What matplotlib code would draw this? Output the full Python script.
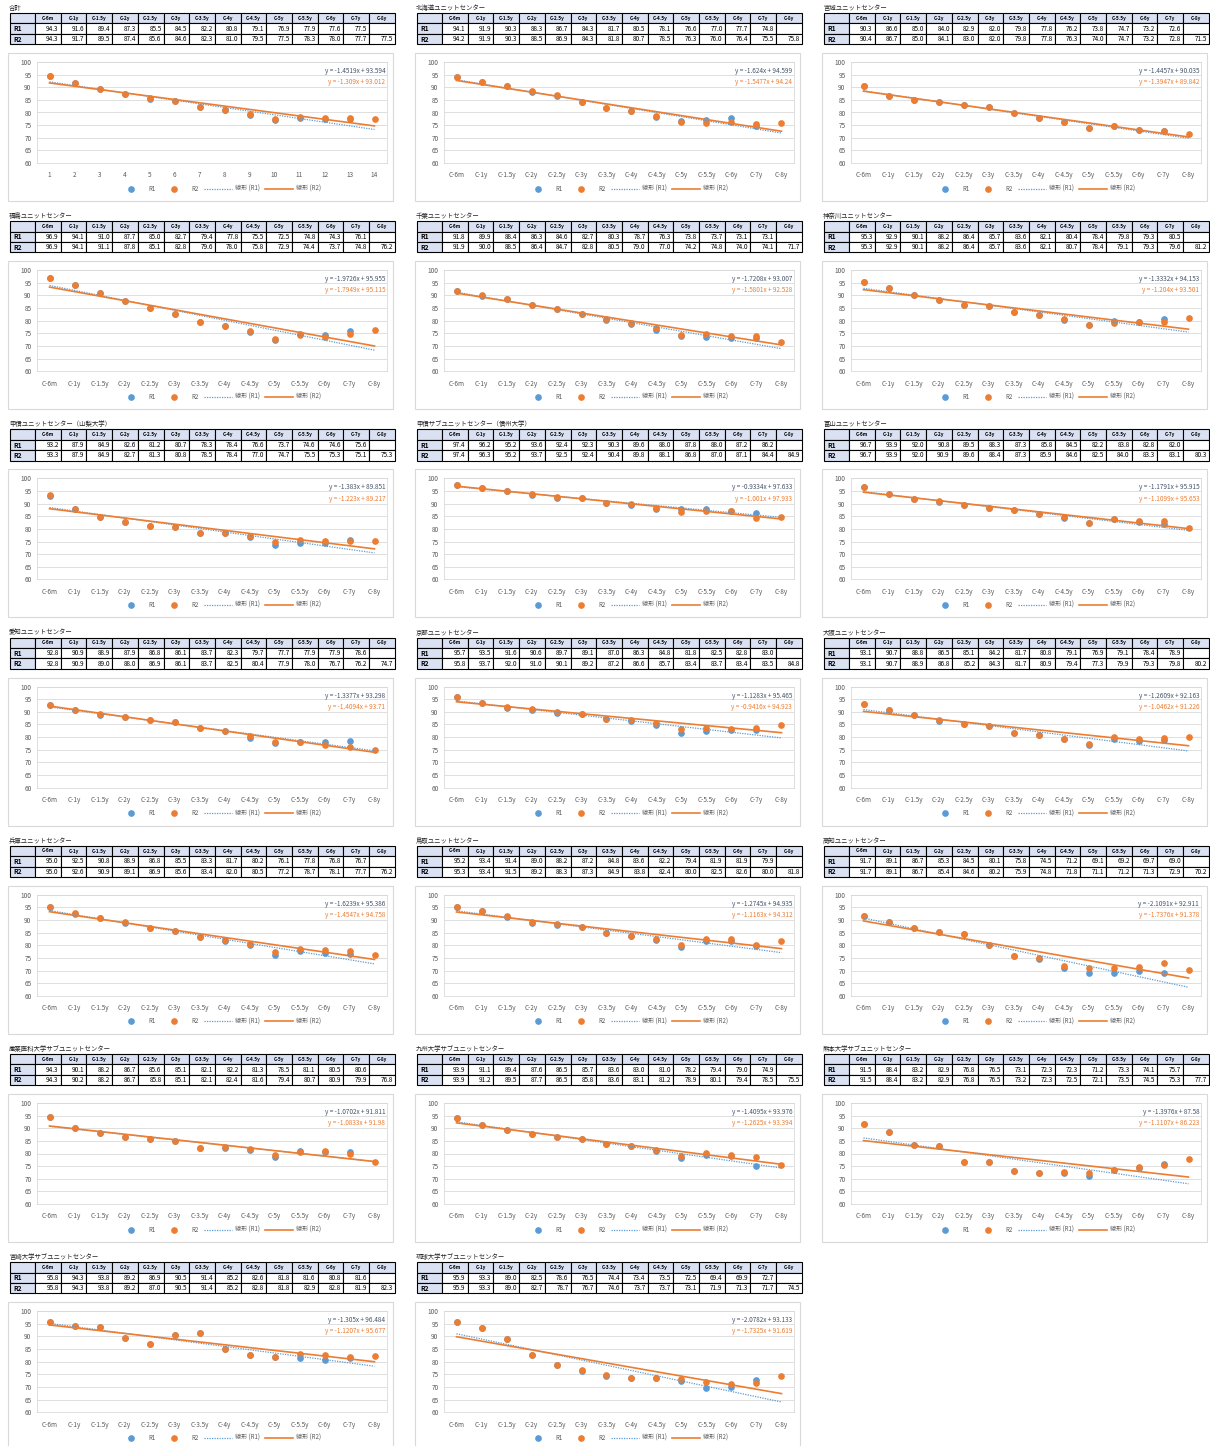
import numpy as np
import matplotlib
matplotlib.use('Agg')
import matplotlib.pyplot as plt
from matplotlib.patches import Rectangle

plt.rcParams['font.family'] = ['Noto Sans CJK JP', 'DejaVu Sans']

W, H = 1210, 1446

# ---- data ----
periods = ['C-6m', 'C-1y', 'C-1.5y', 'C-2y', 'C-2.5y', 'C-3y', 'C-3.5y',
           'C-4y', 'C-4.5y', 'C-5y', 'C-5.5y', 'C-6y', 'C-7y', 'C-8y']
first_xlabels = [str(k) for k in range(1, 15)]

titles = ['合計', '北海道ユニットセンター', '宮城ユニットセンター',
          '福島ユニットセンター', '千葉ユニットセンター', '神奈川ユニットセンター',
          '甲信ユニットセンター（山梨大学）', '甲信サブユニットセンター（信州大学）', '富山ユニットセンター',
          '愛知ユニットセンター', '京都ユニットセンター', '大阪ユニットセンター',
          '兵庫ユニットセンター', '鳥取ユニットセンター', '高知ユニットセンター',
          '産業医科大学サブユニットセンター', '九州大学サブユニットセンター', '熊本大学サブユニットセンター',
          '宮崎大学サブユニットセンター', '琉球大学サブユニットセンター']

# R1 has no value for C-8y
r1 = [
    [94.3, 91.6, 89.4, 87.3, 85.5, 84.5, 82.2, 80.8, 79.1, 76.9, 77.9, 77.6, 77.5],
    [94.1, 91.9, 90.3, 88.3, 86.7, 84.3, 81.7, 80.5, 78.1, 76.6, 77.0, 77.7, 74.8],
    [90.3, 86.6, 85.0, 84.0, 82.9, 82.0, 79.8, 77.8, 76.2, 73.8, 74.7, 73.2, 72.6],
    [96.9, 94.1, 91.0, 87.7, 85.0, 82.7, 79.4, 77.8, 75.5, 72.5, 74.8, 74.3, 76.1],
    [91.8, 89.9, 88.4, 86.3, 84.6, 82.7, 80.3, 78.7, 76.3, 73.8, 73.7, 73.1, 73.1],
    [95.3, 92.9, 90.1, 88.2, 86.4, 85.7, 83.6, 82.1, 80.4, 78.4, 79.8, 79.3, 80.5],
    [93.2, 87.9, 84.9, 82.6, 81.2, 80.7, 78.3, 78.4, 76.6, 73.7, 74.6, 74.6, 75.6],
    [97.4, 96.2, 95.2, 93.6, 92.4, 92.3, 90.3, 89.6, 88.0, 87.8, 88.0, 87.2, 86.2],
    [96.7, 93.9, 92.0, 90.8, 89.5, 88.3, 87.3, 85.8, 84.5, 82.2, 83.8, 82.8, 82.0],
    [92.8, 90.9, 88.9, 87.9, 86.8, 86.1, 83.7, 82.3, 79.7, 77.7, 77.9, 77.9, 78.6],
    [95.7, 93.5, 91.6, 90.6, 89.7, 89.1, 87.0, 86.3, 84.8, 81.8, 82.5, 82.8, 83.0],
    [93.1, 90.7, 88.8, 86.5, 85.1, 84.2, 81.7, 80.8, 79.1, 76.9, 79.1, 78.4, 78.9],
    [95.0, 92.5, 90.8, 88.9, 86.8, 85.5, 83.3, 81.7, 80.2, 76.1, 77.8, 76.8, 76.7],
    [95.2, 93.4, 91.4, 89.0, 88.2, 87.2, 84.8, 83.6, 82.2, 79.4, 81.9, 81.9, 79.9],
    [91.7, 89.1, 86.7, 85.3, 84.5, 80.1, 75.8, 74.5, 71.2, 69.1, 69.2, 69.7, 69.0],
    [94.3, 90.1, 88.2, 86.7, 85.6, 85.1, 82.1, 82.2, 81.3, 78.5, 81.1, 80.5, 80.6],
    [93.9, 91.1, 89.4, 87.6, 86.5, 85.7, 83.6, 83.0, 81.0, 78.2, 79.4, 79.0, 74.9],
    [91.5, 88.4, 83.2, 82.9, 76.8, 76.5, 73.1, 72.3, 72.3, 71.2, 73.3, 74.1, 75.7],
    [95.8, 94.3, 93.8, 89.2, 86.9, 90.5, 91.4, 85.2, 82.6, 81.8, 81.6, 80.8, 81.6],
    [95.9, 93.3, 89.0, 82.5, 78.6, 76.5, 74.4, 73.4, 73.5, 72.5, 69.4, 69.9, 72.7],
]
r2 = [
    [94.3, 91.7, 89.5, 87.4, 85.6, 84.6, 82.3, 81.0, 79.5, 77.5, 78.3, 78.0, 77.7, 77.5],
    [94.2, 91.9, 90.3, 88.5, 86.9, 84.3, 81.8, 80.7, 78.5, 76.3, 76.0, 76.4, 75.5, 75.8],
    [90.4, 86.7, 85.0, 84.1, 83.0, 82.0, 79.8, 77.8, 76.3, 74.0, 74.7, 73.2, 72.8, 71.5],
    [96.9, 94.1, 91.1, 87.8, 85.1, 82.8, 79.6, 78.0, 75.8, 72.9, 74.4, 73.7, 74.8, 76.2],
    [91.9, 90.0, 88.5, 86.4, 84.7, 82.8, 80.5, 79.0, 77.0, 74.2, 74.8, 74.0, 74.1, 71.7],
    [95.3, 92.9, 90.1, 88.2, 86.4, 85.7, 83.6, 82.1, 80.7, 78.4, 79.1, 79.3, 79.6, 81.2],
    [93.3, 87.9, 84.9, 82.7, 81.3, 80.8, 78.5, 78.4, 77.0, 74.7, 75.5, 75.3, 75.1, 75.3],
    [97.4, 96.3, 95.2, 93.7, 92.5, 92.4, 90.4, 89.8, 88.1, 86.8, 87.0, 87.1, 84.4, 84.9],
    [96.7, 93.9, 92.0, 90.9, 89.6, 88.4, 87.3, 85.9, 84.6, 82.5, 84.0, 83.3, 83.1, 80.3],
    [92.8, 90.9, 89.0, 88.0, 86.9, 86.1, 83.7, 82.5, 80.4, 77.9, 78.0, 76.7, 76.2, 74.7],
    [95.8, 93.7, 92.0, 91.0, 90.1, 89.2, 87.2, 86.6, 85.7, 83.4, 83.7, 83.4, 83.5, 84.8],
    [93.1, 90.7, 88.9, 86.8, 85.2, 84.3, 81.7, 80.9, 79.4, 77.3, 79.9, 79.3, 79.8, 80.2],
    [95.0, 92.6, 90.9, 89.1, 86.9, 85.6, 83.4, 82.0, 80.5, 77.2, 78.7, 78.1, 77.7, 76.2],
    [95.3, 93.4, 91.5, 89.2, 88.3, 87.3, 84.9, 83.8, 82.4, 80.0, 82.5, 82.6, 80.0, 81.8],
    [91.7, 89.1, 86.7, 85.4, 84.6, 80.2, 75.9, 74.8, 71.8, 71.1, 71.2, 71.3, 72.9, 70.2],
    [94.3, 90.2, 88.2, 86.7, 85.8, 85.1, 82.1, 82.4, 81.6, 79.4, 80.7, 80.9, 79.9, 76.8],
    [93.9, 91.2, 89.5, 87.7, 86.5, 85.8, 83.6, 83.1, 81.2, 78.9, 80.1, 79.4, 78.5, 75.5],
    [91.5, 88.4, 83.2, 82.9, 76.8, 76.5, 73.2, 72.3, 72.5, 72.1, 73.5, 74.5, 75.3, 77.7],
    [95.8, 94.3, 93.8, 89.2, 87.0, 90.5, 91.4, 85.2, 82.8, 81.8, 82.9, 82.8, 81.9, 82.3],
    [95.9, 93.3, 89.0, 82.7, 78.7, 76.7, 74.6, 73.7, 73.7, 73.1, 71.9, 71.3, 71.7, 74.5],
]

# trendline coefficients as printed on each chart
r1_slope = [-1.4519, -1.624, -1.4457, -1.9726, -1.7208, -1.3332, -1.383, -0.9334, -1.1791, -1.3377,
            -1.1283, -1.2609, -1.6239, -1.2745, -2.1091, -1.0702, -1.4095, -1.3976, -1.305, -2.0782]
r1_icpt = [93.594, 94.599, 90.035, 95.955, 93.007, 94.153, 89.851, 97.633, 95.915, 93.298,
           95.465, 92.163, 95.386, 94.935, 92.911, 91.811, 93.976, 87.58, 96.484, 93.133]
r2_slope = [-1.309, -1.5477, -1.3947, -1.7949, -1.5801, -1.204, -1.223, -1.001, -1.1099, -1.4094,
            -0.9416, -1.0462, -1.4547, -1.1163, -1.7376, -1.0833, -1.2625, -1.1107, -1.1207, -1.7325]
r2_icpt = [93.012, 94.24, 89.842, 95.115, 92.528, 93.501, 89.217, 97.933, 95.653, 93.71,
           94.923, 91.226, 94.758, 94.312, 91.378, 91.98, 93.394, 86.223, 95.677, 91.619]

BLUE = '#5B9BD5'
ORANGE = '#ED7D31'
NAVY = '#44546A'
HEAD = '#D9E1F2'
GRAY = '#595959'

fig = plt.figure(figsize=(W / 100, H / 100), dpi=100)
bg = fig.add_axes([0, 0, 1, 1])
bg.set_xlim(0, W)
bg.set_ylim(H, 0)
bg.axis('off')

col_x = [8, 415, 822]
row_step = 208.2


def fig_rect(x, y, w, h):
    # pixel box (top-left origin) -> figure fraction
    return [x / W, 1 - (y + h) / H, w / W, h / H]


for i, title in enumerate(titles):
    px = col_x[i % 3]
    py = 8 + row_step * (i // 3)

    # --- title ---
    bg.text(px + 1, py, title, fontsize=4.6, va='center', ha='left', color='#222222')

    # --- table ---
    tx = px + 2
    ty = py + 5
    lab_w, cw, rh = 25, 25.7, 10.4
    bg.add_patch(Rectangle((tx, ty), lab_w, rh, fc=HEAD, ec='black', lw=0.8))
    for j, p in enumerate(periods):
        cx = tx + lab_w + j * cw
        bg.add_patch(Rectangle((cx, ty), cw, rh, fc=HEAD, ec='black', lw=0.8))
        bg.text(cx + cw / 2, ty + rh / 2, p, fontsize=3.4, fontweight='bold',
                ha='center', va='center')
    for k, (lab, vals) in enumerate([('R1', r1[i]), ('R2', r2[i])]):
        ry = ty + rh * (k + 1)
        bg.add_patch(Rectangle((tx, ry), lab_w, rh, fc=HEAD, ec='black', lw=0.8))
        bg.text(tx + 3, ry + rh / 2, lab, fontsize=4.8, fontweight='bold',
                ha='left', va='center')
        for j in range(len(periods)):
            cx = tx + lab_w + j * cw
            bg.add_patch(Rectangle((cx, ry), cw, rh, fc='white', ec='black', lw=0.8))
            if j < len(vals):
                bg.text(cx + cw - 2, ry + rh / 2, f'{vals[j]:.1f}', fontsize=4.6,
                        ha='right', va='center')

    # --- chart frame ---
    bg.add_patch(Rectangle((px, py + 45), 385, 148, fc='white', ec='#D9D9D9', lw=0.8))

    ax = fig.add_axes(fig_rect(px + 29, py + 54, 350, 101))
    x1 = np.arange(1, len(r1[i]) + 1)
    x2 = np.arange(1, len(r2[i]) + 1)
    xt = np.arange(1, len(periods) + 1)

    ax.set_axisbelow(True)
    ax.grid(axis='y', color='#D9D9D9', lw=0.6)
    ax.plot(x1, r1[i], 'o', ls='none', color=BLUE, ms=3.8, label='R1', zorder=3)
    ax.plot(x2, r2[i], 'o', ls='none', color=ORANGE, ms=3.8, label='R2', zorder=4)
    ax.plot(xt, r1_slope[i] * xt + r1_icpt[i], ls=(0, (1, 1)), color=BLUE, lw=0.9,
            label='線形 (R1)', zorder=5)
    ax.plot(xt, r2_slope[i] * xt + r2_icpt[i], ls='-', color=ORANGE, lw=1.2,
            label='線形 (R2)', zorder=5)

    ax.set_xlim(0.5, len(periods) + 0.5)
    ax.set_ylim(60, 100)
    ax.set_yticks(np.arange(60, 101, 5))
    ax.set_xticks(xt)
    ax.set_xticklabels(first_xlabels if i == 0 else periods)
    ax.tick_params(length=0, labelsize=4.6, labelcolor=GRAY, pad=6)
    ax.tick_params(axis='y', pad=4)
    for s in ax.spines.values():
        s.set_color('#D9D9D9')
        s.set_linewidth(0.6)

    ax.text(0.995, 0.91, f'y = {r1_slope[i]}x + {r1_icpt[i]}', transform=ax.transAxes,
            ha='right', va='center', fontsize=4.6, color=NAVY, zorder=6)
    ax.text(0.995, 0.80, f'y = {r2_slope[i]}x + {r2_icpt[i]}', transform=ax.transAxes,
            ha='right', va='center', fontsize=4.6, color=ORANGE, zorder=6)

    ax.legend(loc='upper center', bbox_to_anchor=(0.52, -0.16), ncol=4, frameon=False,
              fontsize=4.4, handlelength=4.5, handletextpad=0.5, columnspacing=0.9,
              labelcolor=GRAY, numpoints=1)

fig.savefig('out.png', dpi=100)
